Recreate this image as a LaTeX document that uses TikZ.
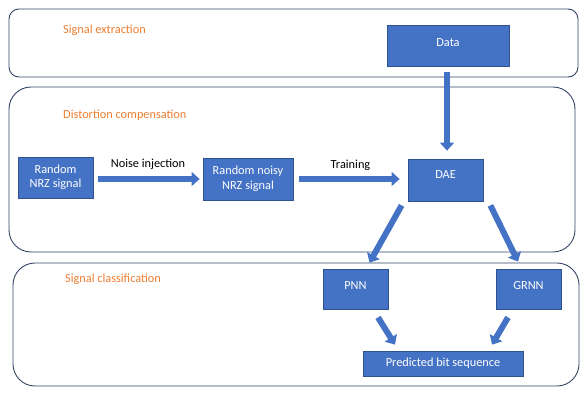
\documentclass[tikz,border=0pt]{standalone}
\usepackage{fontspec}
\setmainfont{Carlito}
\usepackage{tikz}
\usetikzlibrary{arrows.meta, calc}
\definecolor{OffBlue}{RGB}{68,114,196}
\definecolor{OffBlueDark}{RGB}{47,82,143}
\definecolor{OffOrange}{RGB}{237,125,49}
\definecolor{FrameNavy}{RGB}{52,68,100}

\begin{document}
\begin{tikzpicture}[x=1pt, y=-1pt,
    every node/.style={font=\fontsize{12.3}{14.5}\selectfont},
    frame/.style={draw=FrameNavy, line width=0.9pt},
    stage/.style={text=OffOrange, anchor=west, inner sep=0pt},
    blockbox/.style={rectangle, fill=OffBlue, draw=OffBlueDark, line width=0.8pt,
                     text=white, align=center, inner sep=2pt},
    upbox/.style={blockbox, text height=9pt, text depth=8pt},
    bigarrow/.style={draw=OffBlue, line width=6pt,
                     -{Triangle[width=14pt, length=8pt]}}]
        \useasboundingbox (0,0) rectangle (588,402);
        % stage frames
        \draw[frame, rounded corners=10pt] (9,9) rectangle (578,77);
        \draw[frame, rounded corners=22pt] (9,87) rectangle (575,252);
        \draw[frame, rounded corners=22pt] (13,263) rectangle (579,386);
        \node[stage] (extract) at (63,30) {Signal extraction};
        \node[stage] (distort) at (63,115) {Distortion compensation};
        \node[stage] (classify) at (65,279) {Signal classification};
        % blocks
        \node[upbox, minimum width=122pt, minimum height=41pt] (data) at (448,45.5) {Data};
        \node[blockbox, minimum width=75pt, minimum height=41pt] (rnrz) at (55.5,177.5)
              {Random\\NRZ signal};
        \node[blockbox, minimum width=90pt, minimum height=42pt] (noisy) at (248,179)
              {Random noisy\\NRZ signal};
        \node[upbox, text depth=12pt, minimum width=75pt, minimum height=42pt] (dae) at (445.5,180) {DAE};
        \node[upbox, minimum width=65pt, minimum height=40pt] (pnn) at (355.5,289) {PNN};
        \node[upbox, minimum width=65pt, minimum height=40pt] (grnn) at (528.5,289) {GRNN};
        \node[blockbox, minimum width=160pt, minimum height=25pt] (pred) at (443,363.5)
              {Predicted bit sequence};
        % arrows
        \draw[bigarrow, shorten <=6pt, shorten >=8pt] (data.south -| 447,0) -- (dae.north -| 447,0);
        \draw[bigarrow, shorten <=5pt, shorten >=3pt] (rnrz.east |- 0,179) -- (noisy.west)
              node[midway, above=3pt, text=black] (noiselbl) {Noise injection};
        \draw[bigarrow, shorten <=6pt, shorten >=8pt] (noisy.east) -- (dae.west |- noisy.east)
              node[midway, above=2pt, text=black] (trainlbl) {Training};
        \draw[bigarrow] ($(dae.south west)+(-6,4)$) -- ($(pnn.north)+(14,-6)$);
        \draw[bigarrow] ($(dae.south east)+(7,4)$) -- ($(grnn.north)+(-10.5,-7)$);
        \draw[bigarrow] ($(pnn.south)+(22.5,8)$) -- ($(pred.north)+(-48,-6)$);
        \draw[bigarrow] ($(grnn.south)+(-20.5,8)$) -- ($(pred.north)+(49,-6)$);
\end{tikzpicture}
\end{document}
